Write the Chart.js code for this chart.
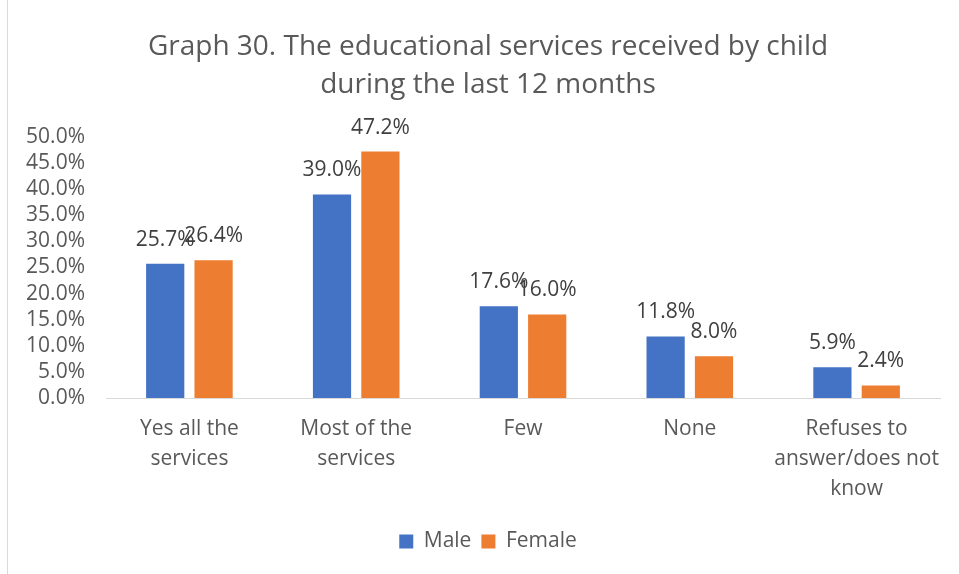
<!DOCTYPE html>
<html>
<head>
<meta charset="utf-8">
<script src="https://cdn.jsdelivr.net/npm/chart.js@4"></script>
<style>
  html, body { margin: 0; padding: 0; background: #fff; }
  #wrap { position: relative; width: 959px; height: 574px; }
  #edge { position: absolute; left: 7px; top: 0; width: 1px; height: 574px; background: #d9d9d9; }
</style>
</head>
<body>
<div id="wrap">
  <canvas id="chart" width="959" height="574"></canvas>
  <div id="edge"></div>
</div>
<script>
const categories = [
  ['Yes all the', 'services'],
  ['Most of the', 'services'],
  'Few',
  'None',
  ['Refuses to', 'answer/does not', 'know']
];
const maleValues = [25.7, 39.0, 17.6, 11.8, 5.9];
const femaleValues = [26.4, 47.2, 16.0, 8.0, 2.4];
const titleLines = ['Graph 30. The educational services received by child', 'during the last 12 months'];

const FONT = '"Open Sans", sans-serif';
const textColor = '#595959';

// value labels above each bar
const barLabels = {
  id: 'barLabels',
  afterLayout(chart) {
    // let the y tick labels reach past the left padding without being clipped
    chart.scales.y.left = 0;
  },
  afterDatasetsDraw(chart) {
    const ctx = chart.ctx;
    ctx.save();
    ctx.font = '21px ' + FONT;
    ctx.fillStyle = '#404040';
    ctx.textAlign = 'center';
    ctx.textBaseline = 'alphabetic';
    chart.data.datasets.forEach((ds, i) => {
      chart.getDatasetMeta(i).data.forEach((bar, j) => {
        ctx.fillText(ds.data[j].toFixed(1) + '%', bar.x, bar.y - 18);
      });
    });
    ctx.restore();
  }
};

new Chart(document.getElementById('chart'), {
  type: 'bar',
  data: {
    labels: categories,
    datasets: [
      { label: 'Male', data: maleValues, backgroundColor: '#4472C4' },
      { label: 'Female', data: femaleValues, backgroundColor: '#ED7D31' }
    ]
  },
  options: {
    responsive: false,
    animation: false,
    categoryPercentage: 0.58,
    barPercentage: 0.79,
    layout: { padding: { left: 36, right: 19, top: 0, bottom: 12 } },
    plugins: {
      title: {
        display: true,
        text: titleLines,
        color: textColor,
        font: { family: FONT, size: 28, weight: 'normal', lineHeight: 1.357 },
        padding: { top: 28, bottom: 33 }
      },
      legend: {
        position: 'bottom',
        labels: {
          color: textColor,
          font: { family: FONT, size: 21 },
          boxWidth: 14,
          boxHeight: 14,
          padding: 10
        }
      },
      tooltip: { enabled: false }
    },
    scales: {
      x: {
        grid: { display: false, drawTicks: false },
        border: { display: true, color: '#d9d9d9', width: 1 },
        ticks: {
          color: textColor,
          font: { family: FONT, size: 21, lineHeight: 1.43 },
          padding: 16,
          maxRotation: 0,
          autoSkip: false
        },
        afterFit(scale) { scale.height = 123; }
      },
      y: {
        min: 0,
        max: 50,
        grid: { display: false, drawTicks: false },
        border: { display: false },
        ticks: {
          stepSize: 5,
          autoSkip: false,
          color: textColor,
          font: { family: FONT, size: 21 },
          padding: 21,
          callback: v => v.toFixed(1) + '%'
        },
        afterFit(scale) { scale.width = 70; }
      }
    }
  },
  plugins: [barLabels]
});
</script>
</body>
</html>
